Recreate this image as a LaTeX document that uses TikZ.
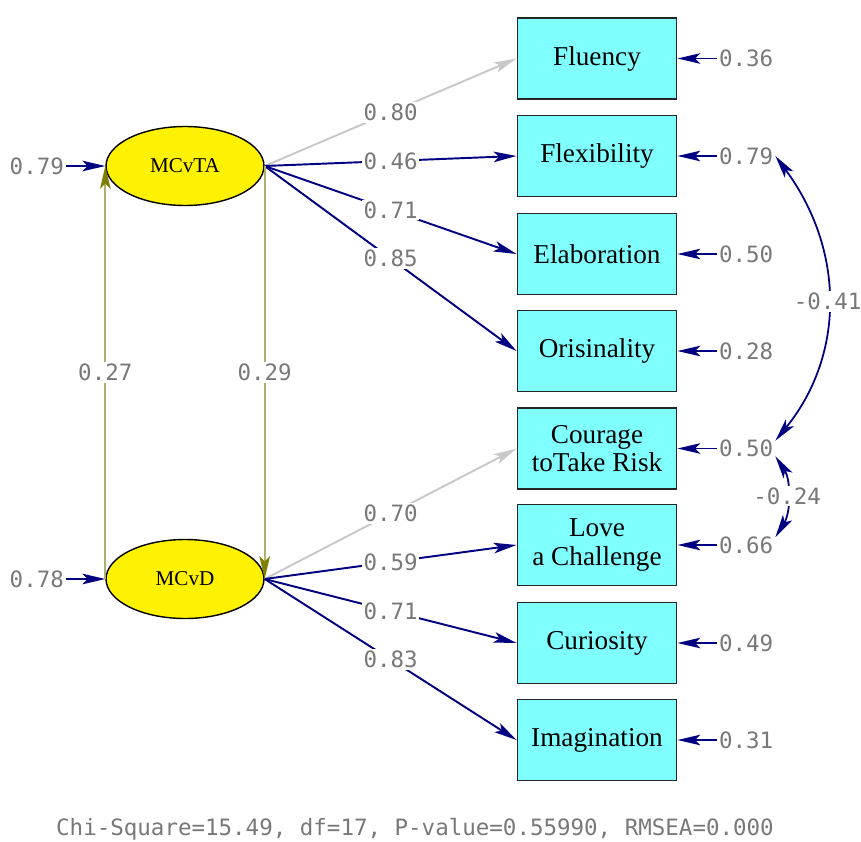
\documentclass[tikz,border=0pt]{standalone}
\usepackage{fontspec}
\setmainfont{Liberation Serif}
\setmonofont{DejaVu Sans Mono}
\usetikzlibrary{shapes.geometric,arrows.meta}
\definecolor{pathblue}{RGB}{0,0,128}
\definecolor{boxcyan}{RGB}{128,255,255}
\definecolor{olivepath}{RGB}{175,175,110}
\definecolor{olivetip}{RGB}{128,128,0}
\definecolor{fixgray}{RGB}{200,200,200}
\definecolor{numgray}{RGB}{120,120,120}

\begin{document}
\begin{tikzpicture}[x=0.02cm, y=-0.02cm,
    obs/.style={draw=black!85, line width=1.1pt, fill=boxcyan, minimum width=3.18cm,
      minimum height=1.62cm, align=center, inner sep=0pt,
      font=\fontsize{15.5}{16}\selectfont},
    lat/.style={ellipse, draw=black, line width=0.8pt, fill=yellow, minimum width=3.16cm,
      minimum height=1.58cm, inner sep=0pt, font=\fontsize{12}{14}\selectfont},
    est/.style={font=\ttfamily\fontsize{12.8}{14}\selectfont, text=numgray, inner sep=1pt},
    tip/.style={-{Stealth[length=13pt, width=6pt, inset=3pt]}},
    load/.style={draw=pathblue, line width=1.1pt, tip},
    fixed/.style={draw=fixgray, line width=1.1pt, tip},
    errarrow/.style={draw=pathblue, line width=1.1pt, tip},
    latcov/.style={draw=olivepath, line width=1.3pt,
      -{Stealth[length=13pt, width=6pt, inset=3pt, color=olivetip]}},
    errcov/.style={draw=pathblue, line width=1pt,
      {Stealth[length=13pt, width=6pt, inset=3pt]}-{Stealth[length=13pt, width=6pt, inset=3pt]}}]
      \useasboundingbox (0, 0) rectangle (861, 841);

      \node [lat] (MCvTA) at (185, 166) {MCvTA};
      \node [lat] (MCvD) at (185, 579) {MCvD};

      \node [obs] (Flu) at (597, 58.5) {Fluency};
      \node [obs] (Fle) at (597, 156) {Flexibility};
      \node [obs] (Ela) at (597, 254) {Elaboration};
      \node [obs] (Ori) at (597, 351) {Orisinality};
      \node [obs] (Cou) at (597, 448.5) {Courage\\toTake Risk};
      \node [obs] (Lov) at (597, 545) {Love\\a Challenge};
      \node [obs] (Cur) at (597, 643) {Curiosity};
      \node [obs] (Ima) at (597, 740) {Imagination};

      \node [est, anchor=east] (eTA) at (66, 166) {0.79};
      \node [est, anchor=east] (eD) at (66, 579) {0.78};
      \draw [errarrow] (eTA) -- (MCvTA);
      \draw [errarrow] (eD) -- (MCvD);

      \node [est, anchor=west] (eFlu) at (717, 58.5) {0.36};
      \node [est, anchor=west] (eFle) at (717, 156) {0.79};
      \node [est, anchor=west] (eEla) at (717, 254) {0.50};
      \node [est, anchor=west] (eOri) at (717, 351) {0.28};
      \node [est, anchor=west] (eCou) at (717, 448.5) {0.50};
      \node [est, anchor=west] (eLov) at (717, 545) {0.66};
      \node [est, anchor=west] (eCur) at (717, 643) {0.49};
      \node [est, anchor=west] (eIma) at (717, 740) {0.31};
      \foreach \v in {Flu, Fle, Ela, Ori, Cou, Lov, Cur, Ima}
        \draw [errarrow] (e\v) -- (\v);

      \draw [fixed] (MCvTA.east) -- node [est, fill=white] {0.80} (Flu.west);
      \draw [load] (MCvTA.east) -- node [est, fill=white] {0.46} (Fle.west);
      \draw [load] (MCvTA.east) -- node [est, fill=white] {0.71} (Ela.west);
      \draw [load] (MCvTA.east) -- node [est, fill=white] {0.85} (Ori.west);

      \draw [fixed] (MCvD.east) -- node [est, fill=white] {0.70} (Cou.west);
      \draw [load] (MCvD.east) -- node [est, fill=white] {0.59} (Lov.west);
      \draw [load] (MCvD.east) -- node [est, fill=white] {0.71} (Cur.west);
      \draw [load] (MCvD.east) -- node [est, fill=white] {0.83} (Ima.west);

      \draw [latcov] (MCvD.west) -- node [est, fill=white] {0.27} (MCvTA.west);
      \draw [latcov] (MCvTA.east) -- node [est, fill=white] {0.29} (MCvD.east);

      \draw [errcov] (eFle.east) .. controls (845, 250) and (845, 355) ..
        node [est, fill=white] {-0.41} (eCou.15);
      \draw [errcov] (eCou.-15) .. controls (791, 480) and (791, 512) ..
        node [est, fill=white] {-0.24} (eLov.15);

      \node [est] (fit) at (415, 829) {Chi-Square=15.49, df=17, P-value=0.55990, RMSEA=0.000};
    \end{tikzpicture}
\end{document}
